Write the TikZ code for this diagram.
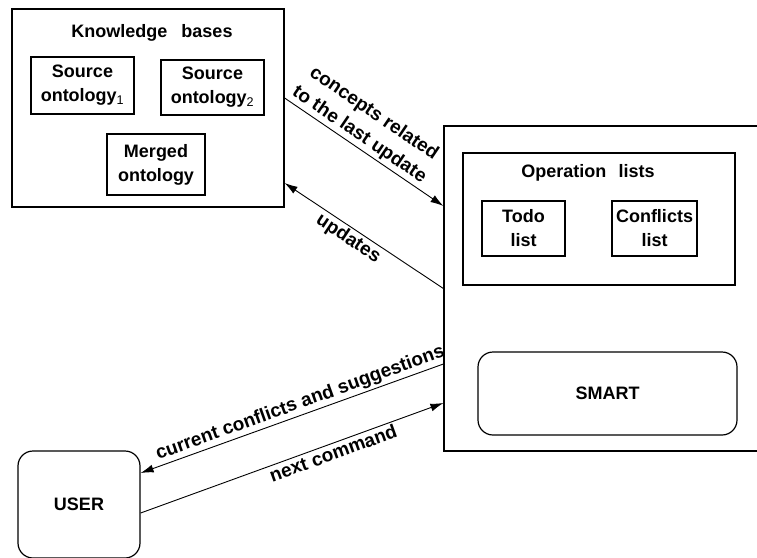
\documentclass[tikz,border=0pt]{standalone}
\usepackage{fontspec}
\setmainfont{Liberation Sans}
\usetikzlibrary{arrows.meta}
\begin{document}
\begin{tikzpicture}[x=1pt,y=-1pt,
  every node/.style={font=\fontsize{18}{24}\selectfont\bfseries, align=center},
  box/.style={draw, line width=1.2pt, inner sep=0pt},
  roundbox/.style={box, rounded corners=15pt},
  label/.style={draw=none, inner sep=2pt, font=\fontsize{19}{26}\selectfont\bfseries},
  flow/.style={line width=0.9pt, -{Latex[length=13pt,width=8pt]}}]
\useasboundingbox (0,0) rectangle (757,557);
\clip (0,0) rectangle (757,557);

% knowledge bases
\node[box, minimum width=272pt, minimum height=198pt] (kb) at (148,108) {};
\node (kbtitle) at (152,33) {Knowledge\hspace{0.5em} bases};
\node[box, minimum width=103pt, minimum height=57pt] (src1) at (82.5,85.5)
  {Source\\ontology\textsubscript{\mdseries 1}};
\node[box, minimum width=103pt, minimum height=55pt] (src2) at (212.5,87.5)
  {Source\\ontology\textsubscript{\mdseries 2}};
\node[box, minimum width=98pt, minimum height=61pt] (merged) at (156,164.5)
  {Merged\\ontology};

% tool side
\node[box, minimum width=336pt, minimum height=325pt] (tool) at (612,288.5) {};
\node[box, minimum width=272pt, minimum height=132pt] (ops) at (599,219) {};
\node (opstitle) at (588,173) {Operation\hspace{0.4em} lists};
\node[box, minimum width=83pt, minimum height=55pt] (todo) at (523.5,228.5) {Todo\\list};
\node[box, minimum width=85pt, minimum height=55pt] (confl) at (654.5,228.5) {Conflicts\\list};
\node[roundbox, minimum width=259pt, minimum height=83pt] (smart) at (607.5,393.5) {SMART};

% user
\node[roundbox, minimum width=122pt, minimum height=107pt] (user) at (79,504.5) {USER};

% exchanges
\draw[flow] ([yshift=10pt]kb.east) -- ([yshift=82.5pt]tool.west)
  node[label, pos=0.43, sloped, above] {concepts related\\to the last update};
\draw[flow] (tool.west) -- ([yshift=-75pt]kb.east)
  node[label, pos=0.56, sloped, below] {updates};
\draw[flow] ([yshift=-75.5pt]tool.west) -- ([yshift=31.5pt]user.east)
  node[label, pos=0.46, sloped, above] {current conflicts and suggestions};
\draw[flow] ([yshift=-8.5pt]user.east) -- ([yshift=-114.5pt]tool.west)
  node[label, pos=0.625, sloped, below] {next command};
\end{tikzpicture}
\end{document}
